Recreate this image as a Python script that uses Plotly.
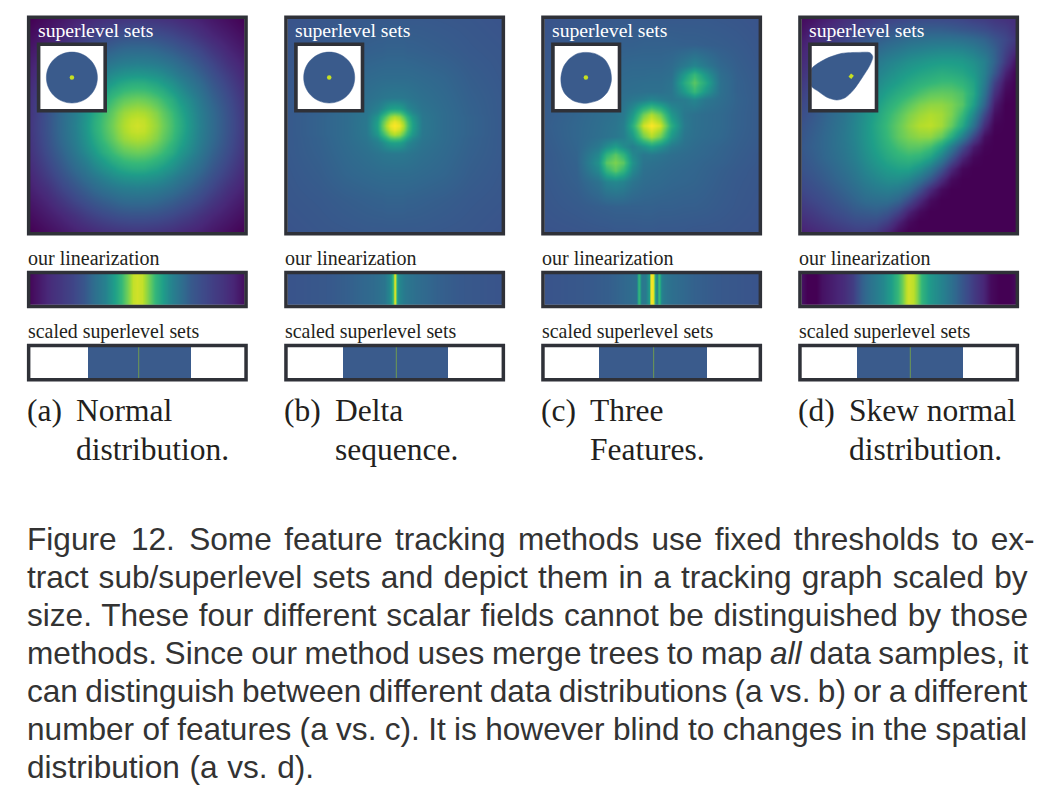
import plotly.graph_objects as go

W, H = 1047, 793
FRAME = "#2f3138"
BLUE = "#3a5b8c"
DOT = "#c6e021"
GREEN_LINE = "#668f5a"

# ---------- 2D fields (viridis fraction) ----------
QUAD_A = [0.5, 0.42, 0.35, 0.29, 0.24, 0.20, 0.16, 0.12, 0.09, 0.06, 0.03, 0.0]
FIELD_A_Q = [
    [.00, .035, .065, .09, .105, .12, .135, .145, .15, .155, .158, .16],
    [.035, .075, .11, .145, .18, .20, .22, .235, .245, .25, .255, .255],
    [.065, .11, .165, .215, .25, .275, .30, .32, .335, .345, .35, .35],
    [.09, .145, .215, .265, .31, .345, .375, .40, .415, .425, .43, .435],
    [.105, .18, .25, .31, .365, .40, .44, .48, .50, .515, .525, .53],
    [.12, .20, .275, .345, .40, .45, .50, .54, .575, .595, .615, .62],
    [.135, .22, .30, .375, .44, .50, .555, .62, .65, .68, .695, .70],
    [.145, .235, .32, .40, .48, .54, .62, .68, .72, .75, .77, .78],
    [.15, .245, .335, .415, .50, .575, .65, .72, .765, .805, .825, .835],
    [.155, .25, .345, .425, .515, .595, .68, .75, .805, .845, .87, .88],
    [.158, .255, .35, .43, .525, .615, .695, .77, .825, .87, .905, .915],
    [.16, .255, .35, .435, .53, .62, .70, .78, .835, .88, .915, .93],
]
QUAD_B = [0.5, 0.35, 0.23, 0.13, 0.08, 0.06, 0.04, 0.02, 0.0]
FIELD_B_Q = [
    [.26, .27, .275, .28, .28, .28, .28, .28, .28],
    [.27, .28, .295, .305, .31, .31, .315, .315, .315],
    [.275, .295, .325, .34, .347, .35, .35, .35, .35],
    [.28, .305, .34, .367, .385, .393, .40, .403, .405],
    [.28, .31, .347, .385, .435, .47, .525, .56, .57],
    [.28, .31, .35, .393, .47, .545, .63, .70, .72],
    [.28, .315, .35, .40, .525, .63, .745, .84, .88],
    [.28, .315, .35, .403, .56, .70, .84, .93, .97],
    [.28, .315, .35, .405, .57, .72, .88, .97, 1.0],
]
FIELD_C_X = [0, .15, .25, .29, .33, .37, .41, .46, .5, .54, .59, .65, .70, .75, .82, .9, 1]
FIELD_C_Y = [0, .12, .22, .26, .30, .34, .38, .45, .5, .55, .60, .635, .673, .71, .76, .88, 1]
FIELD_C = [
    [.26, .27, .275, .275, .28, .28, .28, .28, .28, .28, .28, .28, .28, .28, .275, .27, .26],
    [.27, .285, .295, .30, .305, .305, .305, .31, .31, .31, .31, .305, .305, .30, .295, .285, .27],
    [.275, .295, .315, .32, .325, .33, .335, .335, .335, .335, .35, .41, .46, .41, .335, .30, .275],
    [.28, .30, .325, .33, .335, .34, .345, .345, .35, .35, .365, .54, .67, .53, .36, .305, .28],
    [.28, .305, .33, .34, .345, .35, .355, .36, .36, .36, .385, .61, .74, .60, .37, .31, .28],
    [.28, .31, .34, .345, .35, .36, .365, .37, .37, .37, .39, .54, .67, .53, .37, .31, .285],
    [.285, .315, .345, .355, .365, .375, .40, .43, .46, .43, .40, .42, .46, .40, .36, .315, .285],
    [.29, .325, .355, .365, .38, .41, .53, .78, .88, .78, .53, .40, .37, .355, .34, .31, .285],
    [.295, .33, .36, .375, .39, .43, .62, .93, 1.0, .93, .62, .41, .37, .355, .34, .31, .285],
    [.29, .33, .365, .38, .40, .43, .53, .78, .88, .78, .53, .39, .365, .35, .335, .305, .285],
    [.285, .325, .41, .49, .56, .49, .43, .50, .56, .50, .41, .37, .35, .335, .32, .30, .28],
    [.28, .32, .47, .65, .74, .65, .47, .40, .41, .39, .365, .35, .34, .33, .315, .295, .275],
    [.28, .315, .51, .74, .80, .74, .51, .385, .375, .365, .35, .34, .33, .32, .31, .29, .275],
    [.28, .31, .47, .65, .74, .65, .47, .37, .36, .35, .34, .33, .325, .315, .30, .285, .27],
    [.275, .305, .38, .45, .47, .45, .39, .355, .345, .34, .33, .325, .32, .31, .295, .28, .27],
    [.27, .285, .30, .305, .31, .31, .31, .31, .31, .305, .305, .30, .30, .295, .285, .275, .265],
    [.26, .265, .27, .27, .275, .275, .275, .28, .28, .275, .275, .275, .27, .27, .27, .265, .26],
]
FIELD_D_X = [0, .05, .1, .15, .2, .25, .3, .35, .4, .45, .5, .55, .6, .65, .7, .75, .8, .85, .9, .95, 1]
FIELD_D_Y = [0, .05, .1, .15, .2, .25, .3, .35, .4, .45, .5, .55, .6, .65, .7, .75, .8, .85, .9, .95, 1]
FIELD_D = [
    [.03, .05, .08, .10, .13, .15, .17, .185, .20, .21, .22, .225, .23, .225, .22, .21, .19, .18, .16, .145, .13],
    [.05, .09, .12, .15, .17, .20, .22, .245, .26, .275, .29, .30, .30, .30, .29, .275, .26, .24, .21, .19, .14],
    [.08, .115, .15, .18, .21, .24, .27, .295, .32, .34, .36, .37, .38, .38, .38, .37, .35, .32, .27, .22, .16],
    [.10, .14, .175, .21, .245, .28, .315, .345, .38, .405, .43, .445, .46, .47, .47, .46, .43, .38, .31, .20, .11],
    [.12, .16, .20, .24, .28, .32, .36, .40, .44, .47, .50, .52, .54, .55, .55, .54, .50, .44, .32, .17, .04],
    [.145, .185, .225, .265, .305, .35, .395, .44, .48, .52, .55, .58, .60, .62, .61, .59, .54, .44, .28, .10, .005],
    [.17, .21, .25, .29, .33, .375, .42, .47, .52, .56, .60, .635, .66, .68, .68, .65, .58, .42, .20, .05, .0],
    [.195, .235, .275, .315, .355, .40, .455, .51, .57, .62, .66, .71, .75, .76, .75, .71, .60, .38, .14, .02, .0],
    [.22, .255, .29, .335, .38, .43, .49, .55, .62, .68, .74, .80, .83, .83, .80, .73, .56, .32, .08, .0, .0],
    [.24, .275, .31, .35, .39, .45, .51, .58, .66, .73, .80, .85, .88, .86, .80, .67, .47, .22, .04, .0, .0],
    [.26, .29, .32, .36, .40, .46, .52, .60, .68, .76, .83, .885, .90, .86, .76, .60, .38, .13, .01, .0, .0],
    [.27, .30, .33, .365, .405, .46, .52, .59, .67, .75, .80, .83, .83, .76, .62, .43, .22, .04, .0, .0, .0],
    [.28, .305, .33, .365, .40, .45, .51, .575, .64, .70, .74, .74, .70, .58, .42, .24, .08, .01, .0, .0, .0],
    [.27, .295, .325, .355, .39, .435, .49, .545, .60, .64, .66, .64, .57, .43, .27, .11, .02, .0, .0, .0, .0],
    [.26, .28, .305, .335, .37, .41, .46, .505, .545, .57, .57, .51, .41, .27, .12, .02, .0, .0, .0, .0, .0],
    [.24, .26, .285, .315, .345, .385, .425, .46, .49, .49, .46, .38, .27, .13, .03, .0, .0, .0, .0, .0, .0],
    [.22, .24, .26, .29, .32, .355, .39, .415, .43, .41, .36, .25, .12, .03, .0, .0, .0, .0, .0, .0, .0],
    [.19, .215, .235, .26, .29, .32, .35, .36, .36, .32, .23, .12, .03, .0, .0, .0, .0, .0, .0, .0, .0],
    [.16, .18, .205, .23, .25, .28, .29, .30, .27, .20, .10, .03, .0, .0, .0, .0, .0, .0, .0, .0, .0],
    [.125, .15, .17, .195, .215, .235, .24, .235, .19, .10, .03, .0, .0, .0, .0, .0, .0, .0, .0, .0, .0],
    [.09, .11, .13, .15, .17, .185, .185, .165, .10, .03, .0, .0, .0, .0, .0, .0, .0, .0, .0, .0, .0],
]

# ---------- linearization strips ----------
LIN_A_X = [0, .05, .1, .15, .2, .25, .3, .35, .4, .43, .46, .48, .5, .52, .55, .58, .62, .65, .7, .75, .8, .85, .9, .95, 1]
LIN_A_V = [.02, .08, .13, .17, .21, .27, .36, .44, .58, .68, .82, .91, .93, .91, .80, .66, .55, .46, .37, .28, .23, .19, .15, .10, .03]
LIN_B_X = [0, .2, .3, .4, .45, .475, .485, .492, .497, .502, .507, .512, .525, .55, .6, .7, .8, 1]
LIN_B_V = [.26, .28, .31, .35, .39, .47, .55, .72, .95, .93, .68, .52, .45, .40, .36, .31, .28, .26]
LIN_C_X = [0, .2, .3, .38, .43, .437, .443, .45, .47, .488, .495, .5, .507, .515, .525, .53, .537, .545, .56, .6, .7, .8, 1]
LIN_C_V = [.26, .28, .30, .34, .37, .65, .65, .40, .41, .55, .95, 1.0, .95, .50, .46, .66, .66, .45, .40, .36, .31, .28, .26]
LIN_D_X = [0, .03, .07, .1, .15, .2, .24, .28, .32, .38, .42, .45, .47, .49, .5, .52, .54, .56, .6, .65, .7, .75, .8, .85, .88, .92, .97, 1]
LIN_D_V = [.05, .0, .0, .05, .09, .13, .19, .30, .38, .47, .56, .68, .78, .90, .93, .90, .80, .66, .53, .45, .37, .27, .18, .10, .03, .0, .0, .03]

# ---------- scaled superlevel sets: segment widths (white, blue, white) and marker line ----------
SEG_A = [.268, .480, .252]
SEG_B = [.259, .493, .248]
SEG_C = [.256, .503, .241]
SEG_D = [.262, .492, .246]
PEAK_POS = [.506, .508, .509, .508]

# ---------- inset outlines (fraction of inset, y from top) ----------
CIRCLE_X = [.9, .87, .783, .653, .5, .347, .217, .13, .1, .13, .217, .347, .5, .653, .783, .87, .9]
CIRCLE_Y = [.5, .653, .783, .87, .9, .87, .783, .653, .5, .347, .217, .13, .1, .13, .217, .347, .5]
BUMPY_X = [.479, .64, .79, .875, .895, .835, .70, .48, .30, .17, .115, .104, .15, .25, .36, .479]
BUMPY_Y = [.105, .125, .215, .37, .545, .725, .85, .905, .865, .76, .64, .49, .32, .195, .125, .105]
SKEW_X = [0, .22, .48, .74, .92, .964, .92, .79, .66, .53, .40, .245, .115, 0, 0]
SKEW_Y = [.37, .21, .12, .105, .11, .173, .304, .513, .696, .817, .853, .81, .72, .634, .37]
DOT_X = [[.5], [.5], [.495], [.605, .645]]
DOT_Y = [[.5], [.5], [.5], [.505, .455]]

PANEL_LABELS = ["(a)", "(b)", "(c)", "(d)"]
PANEL_L1 = ["Normal", "Delta", "Three", "Skew normal"]
PANEL_L2 = ["distribution.", "sequence.", "Features.", "distribution."]
CAPTION = [
    [("Figure 12. Some", 5.6), (" feature tracking methods use fixed thresholds to ex-", 3.6)],
    [("tract sub/superlevel sets and depict them in a tracking graph scaled by", 1.4)],
    [("size. These four different scalar fields cannot be distinguished by those", 1.0)],
    [("methods. Since our method uses merge trees to map <i>all</i> data samples, it", -1.15)],
    [("can distinguish between different data distributions (a vs. b) or a different", -1.4)],
    [("number of features (a vs. c). It is however blind to changes in the spatial", -0.45)],
    [("distribution (a vs. d).", 0.9)],
]


def mirror_axis(q):
    return [0.5 - v for v in q] + [0.5 + v for v in q[-2::-1]]


def mirror_field(q):
    rows = [r + r[-2::-1] for r in q]
    return rows + rows[-2::-1]


PANEL_X = [30.0, 287.3, 544.3, 801.3]
PANEL_W = 214.7
fields = [
    (mirror_axis(QUAD_A), mirror_axis(QUAD_A), mirror_field(FIELD_A_Q)),
    (mirror_axis(QUAD_B), mirror_axis(QUAD_B), mirror_field(FIELD_B_Q)),
    (FIELD_C_X, FIELD_C_Y, FIELD_C),
    (FIELD_D_X, FIELD_D_Y, FIELD_D),
]
lins = [(LIN_A_X, LIN_A_V), (LIN_B_X, LIN_B_V), (LIN_C_X, LIN_C_V), (LIN_D_X, LIN_D_V)]
segs = [SEG_A, SEG_B, SEG_C, SEG_D]
outlines = [(CIRCLE_X, CIRCLE_Y), (CIRCLE_X, CIRCLE_Y), (BUMPY_X, BUMPY_Y), (SKEW_X, SKEW_Y)]

fig = go.Figure()
layout = {}
shapes = []
counter = [0]


def new_axes(x0, y0, x1, y1, xr, yr, lw=3.5):
    counter[0] += 1
    n = counter[0]
    s = "" if n == 1 else str(n)
    common = dict(showgrid=False, zeroline=False, showticklabels=False, ticks="",
                  showline=False, fixedrange=True)
    layout["xaxis" + s] = dict(domain=[x0 / W, x1 / W], range=xr, anchor="y" + s, **common)
    layout["yaxis" + s] = dict(domain=[1 - y1 / H, 1 - y0 / H], range=yr, anchor="x" + s, **common)
    o = lw / 2 - 0.4
    shapes.append(dict(type="rect", xref="paper", yref="paper", layer="above",
                       x0=(x0 - o) / W, x1=(x1 + o) / W, y0=1 - (y1 + o) / H, y1=1 - (y0 - o) / H,
                       line=dict(color=FRAME, width=lw), fillcolor="rgba(0,0,0,0)"))
    return "x" + s, "y" + s


def label(text, x, y, size, color, family):
    return dict(text=text, x=x / W, y=1 - y / H, xref="paper", yref="paper", showarrow=False,
                xanchor="left", yanchor="middle", align="left", borderpad=0, borderwidth=0,
                font=dict(size=size, color=color, family=family))


annots = []
SERIF = "Liberation Serif"
SANS = "Liberation Sans"
TXT = "#231f20"

for i, px in enumerate(PANEL_X):
    fx, fy, fz = fields[i]
    xa, ya = new_axes(px, 18.5, px + PANEL_W, 232.5, [0, 1], [1, 0])
    fig.add_trace(go.Heatmap(x=fx, y=fy, z=fz, zmin=0, zmax=1, colorscale="Viridis", showscale=False,
                             zsmooth="best", hoverinfo="skip", xaxis=xa, yaxis=ya))
    # inset
    xa, ya = new_axes(px + 10, 45.7, px + 73.8, 109.4, [0, 1], [1, 0], lw=3.6)
    fig.add_trace(go.Scatter(x=[0, 1, 1, 0, 0], y=[0, 0, 1, 1, 0], fill="toself", fillcolor="white",
                             mode="none", hoverinfo="skip", xaxis=xa, yaxis=ya))
    ox, oy = outlines[i]
    fig.add_trace(go.Scatter(x=ox, y=oy, fill="toself", fillcolor=BLUE, mode="lines",
                             line=dict(color=BLUE, width=0.5, shape="spline", smoothing=0.8 if i >= 2 else 1.0),
                             hoverinfo="skip", xaxis=xa, yaxis=ya))
    if len(DOT_X[i]) == 1:
        fig.add_trace(go.Scatter(x=DOT_X[i], y=DOT_Y[i], mode="markers", marker=dict(color=DOT, size=4.5),
                                 hoverinfo="skip", xaxis=xa, yaxis=ya))
    else:
        fig.add_trace(go.Scatter(x=DOT_X[i], y=DOT_Y[i], mode="lines", line=dict(color=DOT, width=3.6),
                                 hoverinfo="skip", xaxis=xa, yaxis=ya))
    # linearization strip
    lx, lv = lins[i]
    xa, ya = new_axes(px, 273.8, px + PANEL_W, 305.2, [0, 1], [0, 1])
    fig.add_trace(go.Heatmap(x=lx, y=[0, 1], z=[lv, lv], zmin=0, zmax=1, colorscale="Viridis", showscale=False,
                             zsmooth="best", hoverinfo="skip", xaxis=xa, yaxis=ya))
    # scaled superlevel sets
    xa, ya = new_axes(px, 346.8, px + PANEL_W, 378.4, [0, 1], [-0.5, 0.5])
    for w, c in zip(segs[i], ["white", BLUE, "white"]):
        fig.add_trace(go.Bar(x=[w], y=[0], orientation="h", width=1, marker=dict(color=c, line=dict(width=0)),
                             hoverinfo="skip", xaxis=xa, yaxis=ya))
    fig.add_trace(go.Scatter(x=[PEAK_POS[i], PEAK_POS[i]], y=[-0.5, 0.5], mode="lines",
                             line=dict(color=GREEN_LINE, width=1.2), hoverinfo="skip", xaxis=xa, yaxis=ya))
    # texts
    annots.append(label("superlevel sets", px + 7.5, 30.5, 19.7, "white", SERIF))
    annots.append(label("our linearization", px - 2, 258.2, 20, TXT, SERIF))
    annots.append(label("scaled superlevel sets", px - 2, 331.2, 19.9, TXT, SERIF))
    annots.append(label(PANEL_LABELS[i], px - 3, 411, 31.5, TXT, SERIF))
    tx = [76, 335, 590, 849][i]
    annots.append(label(PANEL_L1[i], tx, 411, 31.5, TXT, SERIF))
    annots.append(label(PANEL_L2[i], tx, 449, 31.5, TXT, SERIF))

for k, parts in enumerate(CAPTION):
    text = "".join('<span style="word-spacing:%.2fpx">%s</span>' % (ws, t) for t, ws in parts)
    annots.append(label(text, 27, 538.5 + 38 * k, 31.6, "#333333", SANS))

fig.update_layout(width=W, height=H, autosize=False, margin=dict(l=0, r=0, t=0, b=0, pad=0),
                  paper_bgcolor="white", plot_bgcolor="white", showlegend=False, barmode="stack",
                  bargap=0, annotations=annots, shapes=shapes, **layout)
fig.write_html("out.html", config=dict(displayModeBar=False),
               post_script="document.body.style.margin='0';document.documentElement.style.overflow='hidden';")
